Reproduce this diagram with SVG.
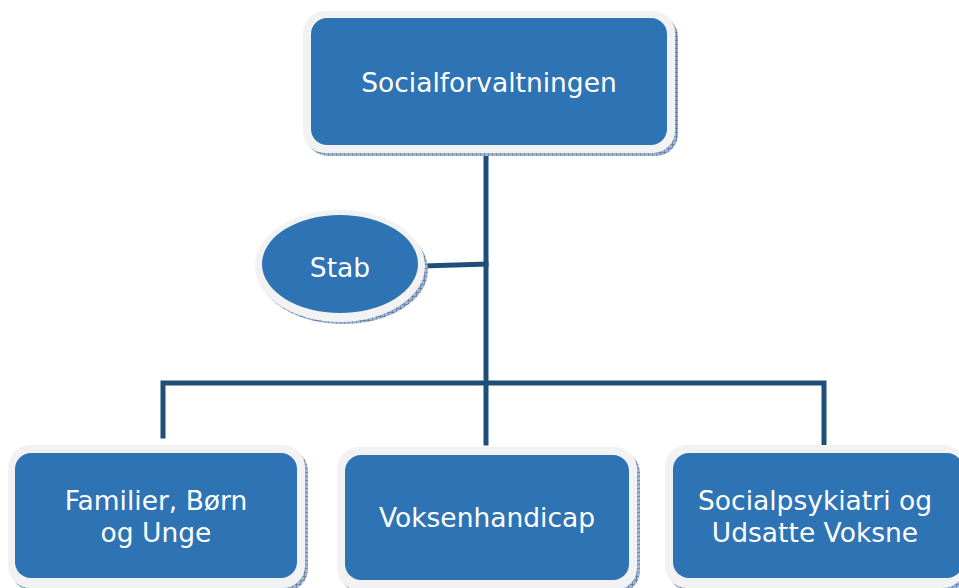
<svg xmlns="http://www.w3.org/2000/svg" width="959" height="588" viewBox="0 0 959 588">
<defs>
<pattern id="hatch" width="4" height="4" patternUnits="userSpaceOnUse">
<rect width="4" height="4" fill="#9fb4cf"/>
<path d="M0 0H4M0 0V4" stroke="#3b5d8a" stroke-width="0.9"/>
</pattern>
<style>
.shadow{fill:url(#hatch);}
.rim{fill:#f2f2f2;}
.box{fill:#2e74b5;}
.lbl{font-family:"DejaVu Sans",Verdana,sans-serif;font-size:26.5px;fill:#ffffff;text-anchor:middle;}
.conn{stroke:#1f4e79;stroke-width:5;fill:none;stroke-linecap:square;}
</style>
</defs>
<rect width="959" height="588" fill="#ffffff"/>
<g id="connectors">
<path class="conn" d="M486 155V443"/>
<path class="conn" d="M424 266L486 264"/>
<path class="conn" d="M163 436V383H824V444"/>
</g>
<g id="node-socialforvaltningen">
<rect class="shadow" x="306" y="15" width="372" height="141" rx="22"/>
<rect class="rim" x="303" y="11" width="372" height="142" rx="22"/>
<rect class="box" x="311" y="18" width="356" height="127" rx="16"/>
<text class="lbl" x="489" y="92">Socialforvaltningen</text>
</g>
<g id="node-stab">
<ellipse class="shadow" cx="343" cy="270" rx="85" ry="54"/>
<ellipse class="rim" cx="340" cy="266" rx="85" ry="56"/>
<ellipse class="box" cx="340" cy="264" rx="78" ry="49"/>
<text class="lbl" x="340" y="277">Stab</text>
</g>
<g id="node-familier">
<rect class="shadow" x="11" y="449" width="297" height="142" rx="22"/>
<rect class="rim" x="8" y="445" width="297" height="143" rx="22"/>
<rect class="box" x="15" y="453" width="282" height="125" rx="16"/>
<text class="lbl" x="156" y="510">Familier, Børn</text>
<text class="lbl" x="156" y="542">og Unge</text>
</g>
<g id="node-voksenhandicap">
<rect class="shadow" x="340" y="451" width="300" height="142" rx="22"/>
<rect class="rim" x="337" y="447" width="300" height="143" rx="22"/>
<rect class="box" x="345" y="455" width="284" height="125" rx="16"/>
<text class="lbl" x="487" y="527">Voksenhandicap</text>
</g>
<g id="node-socialpsykiatri">
<rect class="shadow" x="668" y="449" width="300" height="142" rx="22"/>
<rect class="rim" x="665" y="445" width="300" height="143" rx="22"/>
<rect class="box" x="673" y="453" width="290" height="125" rx="16"/>
<text class="lbl" x="815" y="510">Socialpsykiatri og</text>
<text class="lbl" x="815" y="542">Udsatte Voksne</text>
</g>
</svg>
